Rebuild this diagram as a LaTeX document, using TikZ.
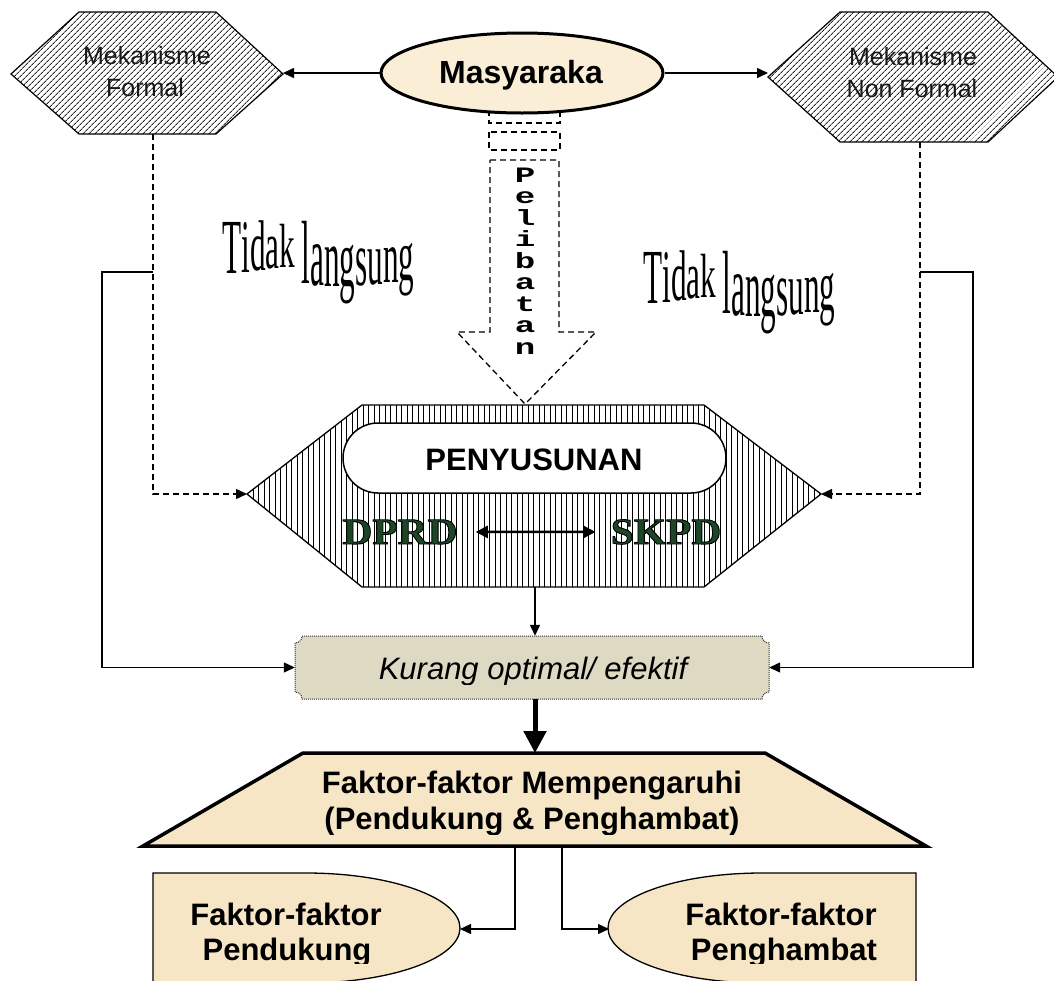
\documentclass[tikz,border=0pt]{standalone}
\usepackage{fontspec}
\setmainfont{Liberation Sans}
\newfontfamily\serifwide[FakeStretch=1.12]{Liberation Serif}
\newfontfamily\tidakfont[FakeStretch=0.40]{Liberation Serif}
\newfontfamily\pelfont[FakeStretch=1.55]{Liberation Mono}
\usetikzlibrary{arrows.meta,patterns.meta,shapes.geometric}

\definecolor{creamfill}{RGB}{250,238,215}
\definecolor{peachfill}{RGB}{247,230,198}
\definecolor{tanfill}{RGB}{221,217,195}
\definecolor{dprdgreen}{RGB}{28,70,38}

% green letters with a thin black outline
\newcommand{\outlinedword}[1]{\special{pdf:literal direct 0 G 0.9 w 2 Tr}#1\special{pdf:literal direct 0 Tr}}

\tikzset{
  ln/.style={line width=1.3pt},
  arr/.style={-{Triangle[length=11pt,width=10pt]}},
  dashln/.style={line width=1.3pt, dash pattern=on 6pt off 4pt},
  hexhatch/.style={draw, line width=1.2pt, pattern={Lines[angle=45,distance=4pt,line width=0.9pt]}, pattern color=black!85},
  penhatch/.style={draw, line width=1.3pt, pattern={Lines[angle=90,distance=5.5pt,line width=1pt]}, pattern color=black},
  mektext/.style={anchor=base, inner sep=0pt, font=\fontsize{25}{28}\selectfont, text=black!90},
  boldtext/.style={anchor=base, inner sep=0pt, font=\bfseries\fontsize{31}{36}\selectfont},
  pelletter/.style={anchor=base, inner sep=0pt, text height=14pt, text depth=0pt,
      font=\pelfont\bfseries\fontsize{22}{22}\selectfont},
  dprdtext/.style={anchor=base, inner sep=0pt, text=dprdgreen, font=\serifwide\bfseries\fontsize{37}{40}\selectfont},
  wavechar/.style={anchor=base west, inner sep=0pt, font=\tidakfont\fontsize{78}{80}\selectfont},
  creamshape/.style={draw, line width=1.3pt, fill=peachfill},
}

\begin{document}
\begin{tikzpicture}[x=1pt,y=-1pt]
\useasboundingbox (0,0) rectangle (1054,980);
\fill[white] (0,0) rectangle (1054,980);

% ---------- anchor points on the drawn shapes ----------
\coordinate (formalE) at (283,74);
\coordinate (formalS) at (153,134);
\coordinate (nformalW) at (768,77);
\coordinate (nformalS) at (920,142);
\coordinate (penW) at (247,494);
\coordinate (penE) at (821,494);
\coordinate (penS) at (535,587);
\coordinate (leftTop) at (153,272);
\coordinate (rightTop) at (920,272);
\coordinate (trapN) at (535,753);
\coordinate (trapL) at (515,846);
\coordinate (trapR) at (562,846);
\coordinate (supE) at (460,929);
\coordinate (inhW) at (609,929);

% ---------- top hexagons ----------
\path[hexhatch] (11,74) -- (79,12) -- (216,12) -- (283,74) -- (216,134) -- (79,134) -- cycle;
\node[mektext] (formalA) at (147,64) {Mekanisme};
\node[mektext] (formalB) at (145,96) {Formal};

\path[hexhatch] (768,77) -- (840,12) -- (988,12) -- (1058,77) -- (988,142) -- (840,142) -- cycle;
\node[mektext] (nformalA) at (913,65) {Mekanisme};
\node[mektext] (nformalB) at (912,97) {Non Formal};

% ---------- dashed block arrow "Pelibatan" ----------
\draw[dashln, fill=white] (489,100) rectangle (560,123);
\draw[dashln, fill=white] (489,132) rectangle (560,150);
\draw[dashln, fill=white] (490,160) -- (559,160) -- (559,332) -- (596,332)
  -- (525,404) -- (457,332) -- (490,332) -- cycle;
\foreach \ch [count=\i] in {P,e,l,i,b,a,t,a,n}
  \node[pelletter] (pel\i) at (525,{182+21.5*(\i-1)}) {\ch};

% ---------- Masyaraka ----------
\node[ellipse, draw, line width=3pt, fill=creamfill, minimum width=282pt,
      minimum height=80pt, inner sep=0pt] (masy) at (522,73) {};
\node[boldtext, font=\bfseries\fontsize{32}{36}\selectfont] (masyT) at (521,83) {Masyaraka};
\draw[ln, line width=1.5pt, arr] (masy.west) -- (masy.west -| formalE);
\draw[ln, line width=1.5pt, arr] (masy.east) -- (masy.east -| nformalW);

% ---------- wavy labels: upright letters, wavy baseline, varying height ----------
\foreach \ch/\dx/\by/\sy [count=\i] in {T/0/273/1.0, i/19.1/272/0.97, d/27.8/270/0.92, a/43.4/268/0.86, k/57.3/267/0.8,
    l/79.5/283/1.15, a/88.2/285/1.12, n/102.1/286/1.08, g/117.7/286/1.04, s/133.3/285/1.0,
    u/145.4/284/0.97, n/161.0/282/0.95, g/176.6/280/0.93}{
  \node[wavechar] (tidL\i) at ({222+\dx},\by) {\scalebox{1}[\sy]{\ch}};
  \node[wavechar] (tidR\i) at ({643+\dx},{\by+30}) {\scalebox{1}[\sy]{\ch}};
}

% ---------- dashed links into PENYUSUNAN ----------
\draw[dashln, arr] (formalS) |- (penW);
\draw[dashln, arr] (nformalS) |- (penE);

% ---------- PENYUSUNAN hexagon ----------
\path[penhatch] (247,494) -- (362,405) -- (704,405) -- (821,494) -- (704,587) -- (362,587) -- cycle;
\node[draw, line width=1.5pt, fill=white, rounded corners=35pt, minimum width=383pt,
      minimum height=70pt, inner sep=0pt] (pen) at (534.5,458) {};
\node[boldtext] (penT) at (534,470) {PENYUSUNAN};
\node[dprdtext] (dprd) at (400,544) {\outlinedword{DPRD}};
\node[dprdtext] (skpd) at (666,544) {\outlinedword{SKPD}};
\draw[line width=2.5pt, {Triangle[length=12pt,width=12pt]}-{Triangle[length=12pt,width=12pt]},
      shorten <=18pt, shorten >=15pt] (dprd.east) -- (skpd.west);

% ---------- Kurang optimal ----------
\node[minimum width=474pt, minimum height=63pt, inner sep=0pt] (kur) at (532,667.5) {};
\path[fill=tanfill, draw=black!80, line width=1pt, dash pattern=on 1pt off 1pt]
  (302,636) -- (762,636) .. controls (762,640) and (765,643) .. (769,643)
  -- (769,692) .. controls (765,692) and (762,695) .. (762,699)
  -- (302,699) .. controls (302,695) and (299,692) .. (295,692)
  -- (295,643) .. controls (299,643) and (302,640) .. (302,636) -- cycle;
\begin{scope}
  \clip (300,640) rectangle (765,684);
  \node[anchor=base, inner sep=0pt, font=\itshape\fontsize{31}{34}\selectfont] (kurT) at (533,679) {Kurang optimal/ efektif};
\end{scope}

\draw[ln, arr] (penS) -- (penS |- kur.north);
\draw[ln, arr] (leftTop) -- ++(-51,0) |- (kur.west);
\draw[ln, arr] (rightTop) -- ++(53,0) |- (kur.east);

% ---------- Faktor-faktor trapezium ----------
\draw[line width=5pt, -{Triangle[length=22pt,width=22pt]}] (kur.south -| trapN) -- (trapN);
\path[draw, line width=3.5pt, fill=peachfill] (303,753) -- (765,753) -- (926,846) -- (143,846) -- cycle;
\node[boldtext] (trapA) at (532,793) {Faktor-faktor Mempengaruhi};
\begin{scope}
  \clip (150,800) rectangle (920,834);
  \node[boldtext] (trapB) at (532,829) {(Pendukung \& Penghambat)};
\end{scope}

% ---------- bottom boxes ----------
\path[creamshape] (153,873) -- (306,873) arc[start angle=-90, end angle=90, x radius=154, y radius=55]
  -- (153,983) -- cycle;
\path[creamshape] (916,873) -- (762,873) arc[start angle=270, end angle=90, x radius=154, y radius=55]
  -- (916,983) -- cycle;
\node[boldtext] (supA) at (286,925) {Faktor-faktor};
\node[boldtext] (inhA) at (781,925) {Faktor-faktor};
\begin{scope}
  \clip (150,890) rectangle (920,963);
  \node[boldtext] (supB) at (287,960) {Pendukung};
  \node[boldtext] (inhB) at (784,960) {Penghambat};
\end{scope}

\draw[ln, arr] (trapL) |- (supE);
\draw[ln, arr] (trapR) |- (inhW);
\end{tikzpicture}
\end{document}
